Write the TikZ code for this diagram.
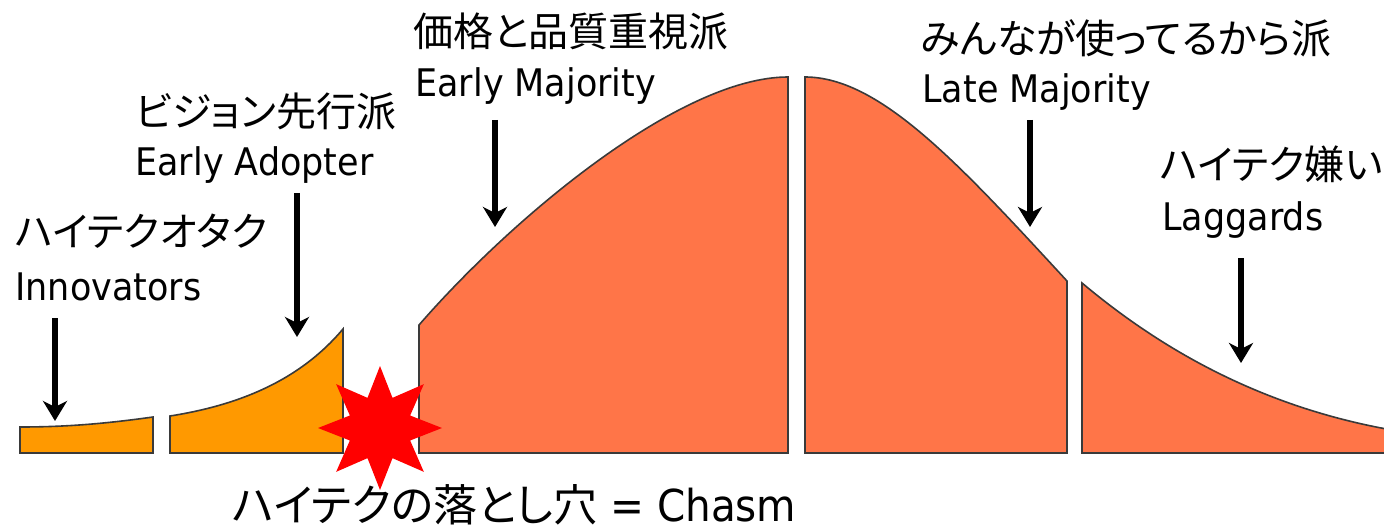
\documentclass[tikz,border=0pt]{standalone}
\usepackage{fontspec}
\setmainfont{DejaVu Sans}[FakeStretch=0.92]
\newfontfamily\jp{Noto Sans CJK JP}[RawFeature=+palt]
\usetikzlibrary{arrows.meta,shapes.geometric}
\definecolor{early}{HTML}{FF9900}
\definecolor{major}{HTML}{FF7548}
\definecolor{edge}{HTML}{3A3A3A}

\begin{document}
\begin{tikzpicture}[x=0.5pt,y=-0.5pt,
  seg/.style={draw=edge,line width=0.8pt},
  pointer/.style={line width=3pt,-{Stealth[length=10pt,width=12pt,inset=3pt]}},
  jptext/.style={anchor=base west,inner sep=0pt,font=\jp\fontsize{20}{20}\selectfont},
  entext/.style={anchor=base west,inner sep=0pt,font=\fontsize{19}{19}\selectfont}]
\useasboundingbox (0,0) rectangle (1384,529);
% the five groups of the curve
\draw[seg,fill=early] (20,453) -- (20,427) .. controls (70,427) and (110,423) .. (153,417) -- (153,453) -- cycle;
\draw[seg,fill=early] (170,453) -- (170,416) .. controls (240,405) and (300,380) .. (343,329) -- (343,453) -- cycle;
\draw[seg,fill=major] (419,453) -- (419,325) .. controls (512,218) and (680,77) .. (788,77) -- (788,453) -- cycle;
\draw[seg,fill=major] (805,453) -- (805,77) .. controls (880,77) and (960,165) .. (1067,281) -- (1067,453) -- cycle;
\draw[seg,fill=major] (1082,453) -- (1082,283) .. controls (1150,340) and (1250,405) .. (1392,430) -- (1392,453) -- cycle;
% the chasm
\node[star,star points=8,star point ratio=1.9,fill=red,minimum size=62pt,inner sep=0pt] (chasm) at (380,428) {};
% labels
\node[jptext] (inn-jp) at (15,246) {ハイテクオタク};
\node[entext] (inn-en) at (15,300) {Innovators};
\node[jptext] (ea-jp) at (135,127) {ビジョン先行派};
\node[entext] (ea-en) at (135,176) {Early Adopter};
\node[jptext] (em-jp) at (413,47) {価格と品質重視派};
\node[entext] (em-en) at (415,97) {Early Majority};
\node[jptext] (lm-jp) at (920,54) {みんなが使ってるから派};
\node[entext] (lm-en) at (922,103) {Late Majority};
\node[jptext] (lag-jp) at (1160,180) {ハイテク嫌い};
\node[entext] (lag-en) at (1162,230) {Laggards};
\node[anchor=base west,inner sep=0pt,font=\fontsize{22}{22}\selectfont] (chasm-txt) at (232,521) {{\jp ハイテクの落とし穴} = Chasm};
% arrows
\coordinate (inn-top) at (55,318);  \coordinate (inn-tip) at (55,421);
\coordinate (ea-top) at (297,193);  \coordinate (ea-tip) at (297,337);
\coordinate (em-top) at (495,120);  \coordinate (em-tip) at (495,227);
\coordinate (lm-top) at (1030,120); \coordinate (lm-tip) at (1030,227);
\coordinate (lag-top) at (1241,258); \coordinate (lag-tip) at (1241,363);
\foreach \a in {inn,ea,em,lm,lag}
  \draw[pointer] (\a-top) -- (\a-tip);
\end{tikzpicture}
\end{document}
